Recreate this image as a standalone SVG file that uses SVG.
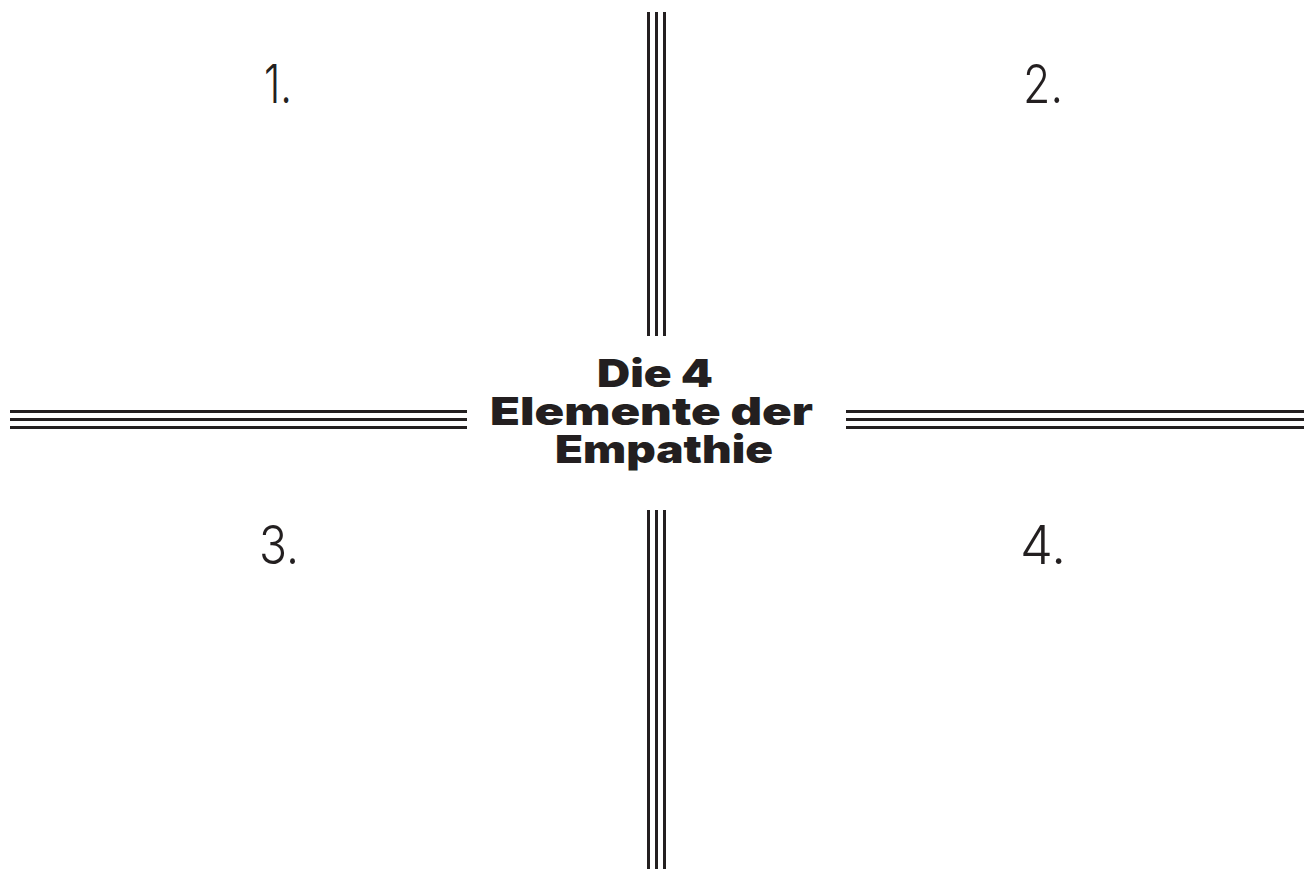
<svg xmlns="http://www.w3.org/2000/svg" width="1307" height="869" viewBox="0 0 1307 869">
<style>
.ln{stroke:#231f20;stroke-width:3;fill:none}
.num{font-family:Inter,"Noto Sans","Liberation Sans",sans-serif;font-weight:350;font-size:54px;fill:#231f20}
.ttl{font-family:Inter,"Liberation Sans",sans-serif;font-weight:900;font-size:38px;fill:#231f20}
</style>
<rect width="1307" height="869" fill="#ffffff"/>
<g id="connectors">
<g id="line-top"><line class="ln" x1="648.5" y1="12" x2="648.5" y2="336"/><line class="ln" x1="656.5" y1="12" x2="656.5" y2="336"/><line class="ln" x1="664.5" y1="12" x2="664.5" y2="336"/></g>
<g id="line-bottom"><line class="ln" x1="648.5" y1="510" x2="648.5" y2="869"/><line class="ln" x1="656.5" y1="510" x2="656.5" y2="869"/><line class="ln" x1="664.5" y1="510" x2="664.5" y2="869"/></g>
<g id="line-left"><line class="ln" x1="10" y1="411.5" x2="467" y2="411.5"/><line class="ln" x1="10" y1="419.5" x2="467" y2="419.5"/><line class="ln" x1="10" y1="427.5" x2="467" y2="427.5"/></g>
<g id="line-right"><line class="ln" x1="846" y1="411.5" x2="1304" y2="411.5"/><line class="ln" x1="846" y1="419.5" x2="1304" y2="419.5"/><line class="ln" x1="846" y1="427.5" x2="1304" y2="427.5"/></g>
</g>
<g id="center-title">
<text class="ttl" x="597" y="387" textLength="116" lengthAdjust="spacingAndGlyphs">Die 4</text>
<text class="ttl" x="490" y="425" textLength="323" lengthAdjust="spacingAndGlyphs">Elemente der</text>
<text class="ttl" x="555" y="463" textLength="218" lengthAdjust="spacingAndGlyphs">Empathie</text>
</g>
<g id="node-1"><text class="num" x="264" y="103" textLength="28" lengthAdjust="spacingAndGlyphs">1.</text></g>
<g id="node-2"><text class="num" x="1023" y="103" textLength="40" lengthAdjust="spacingAndGlyphs">2.</text></g>
<g id="node-3"><text class="num" x="259" y="564" textLength="40" lengthAdjust="spacingAndGlyphs">3.</text></g>
<g id="node-4"><text class="num" x="1020" y="564" textLength="46" lengthAdjust="spacingAndGlyphs">4.</text></g>
</svg>
